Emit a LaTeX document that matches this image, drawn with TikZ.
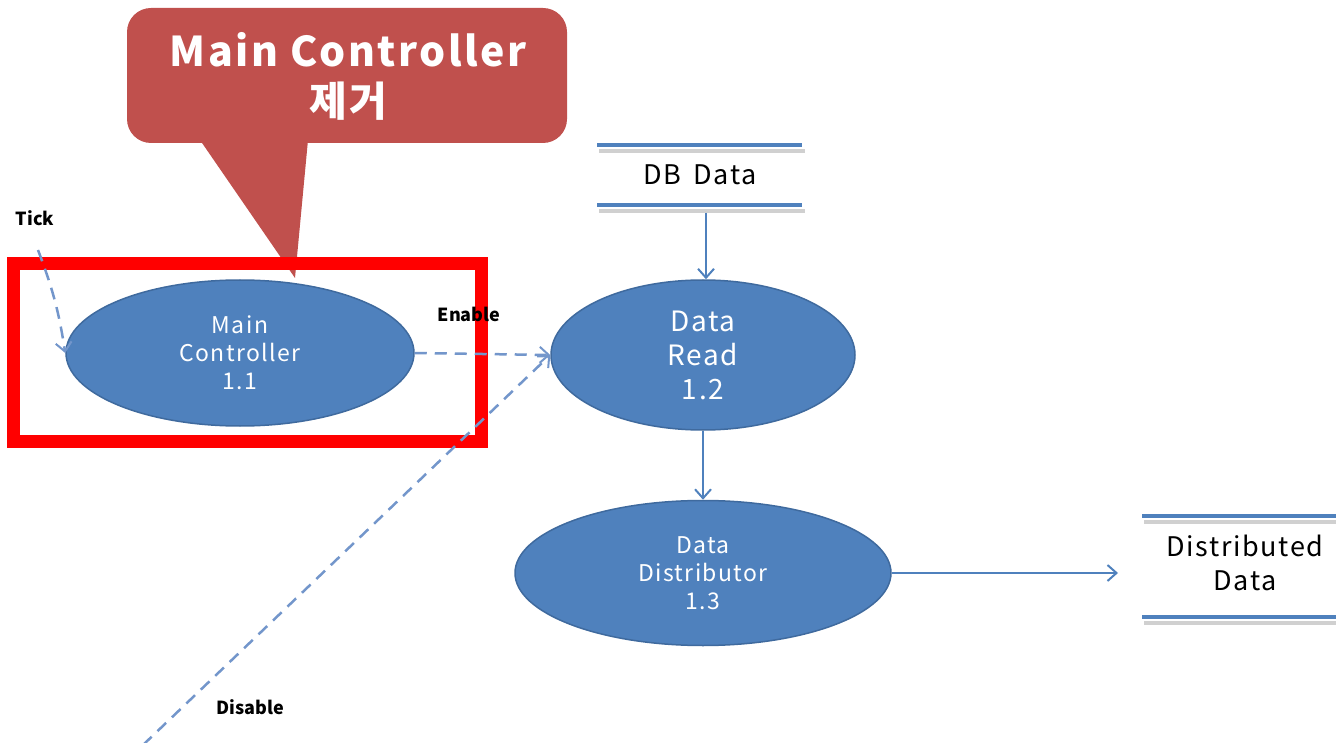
\documentclass[tikz,border=0pt]{standalone}
\usepackage{fontspec}
\setmainfont{Noto Sans CJK KR}
\newfontfamily\widefont[LetterSpace=6]{Noto Sans CJK KR}
\usetikzlibrary{shapes.geometric,arrows.meta}
\definecolor{nodeblue}{HTML}{4F81BD}
\definecolor{nodeedge}{HTML}{3F6A9E}
\definecolor{dashblue}{HTML}{7396CB}
\definecolor{calloutred}{HTML}{C0504D}
\definecolor{shadowgray}{HTML}{D0D0D0}
\tikzset{
  proc/.style={ellipse, fill=nodeblue, draw=nodeedge, line width=1.5pt, text=white, align=center, inner sep=0pt},
  smallproc/.style={proc, font=\widefont\fontsize{23}{28}\selectfont},
  bigproc/.style={proc, font=\widefont\fontsize{28}{34}\selectfont},
  storetext/.style={align=center, font=\widefont\fontsize{27}{34}\selectfont, text=black},
  storeline/.style={draw=nodeblue, line width=4pt},
  storeshadow/.style={draw=shadowgray, line width=4pt},
  flow/.style={draw=nodeblue, line width=2pt, -{Straight Barb[length=9pt,width=16pt,line width=2pt]}},
  ctrlflow/.style={draw=dashblue, line width=2.5pt, dash pattern=on 12pt off 8pt, -{Straight Barb[length=9pt,width=16pt,line width=2pt]}},
  lbl/.style={font=\fontsize{18}{20}\selectfont\bfseries, text=black, inner sep=0pt}
}
\begin{document}
\begin{tikzpicture}[x=1pt,y=-1pt]
\useasboundingbox (0,0) rectangle (1336,743);
% callout
\fill[calloutred, rounded corners=24pt] (127,8) rectangle (567,143);
\fill[calloutred] (200,140) -- (295,278) -- (308,140) -- cycle;
\node[text=white, align=center, font=\widefont\fontsize{41}{50}\selectfont\bfseries] (callout) at (348,76) {Main Controller\\제거};
% red frame
\draw[red, line width=13pt] (13,264) rectangle (481,441);
% processes
\node[smallproc, minimum width=348pt, minimum height=146pt] (mc) at (240,353) {Main\\Controller\\1.1};
\node[bigproc, minimum width=304pt, minimum height=150pt] (dr) at (703,355) {Data\\Read\\1.2};
\node[smallproc, minimum width=376pt, minimum height=145pt] (dd) at (703,573) {Data\\Distributor\\1.3};
% stores
\draw[storeshadow] (599,211) -- (805,211);
\draw[storeline] (597,205) -- (802,205);
\draw[storeshadow] (599,151) -- (805,151);
\draw[storeline] (597,145) -- (802,145);
\node[storetext] (db) at (700,175) {DB\, Data};
\draw[storeshadow] (1144,522) -- (1336,522);
\draw[storeline] (1142,516) -- (1336,516);
\draw[storeshadow] (1144,623) -- (1336,623);
\draw[storeline] (1142,617) -- (1336,617);
\node[storetext] (dist) at (1245,563) {Distributed\\Data};
% flows
\coordinate (dbbot) at (706,213);
\draw[flow] (dbbot) -- (dr.north -| dbbot);
\draw[flow] (dr.south) -- (dd.north);
\coordinate (distin) at (1118,573);
\draw[flow] (dd.east) -- (distin);
% control flows
\node[lbl] (tick) at (35,218) {Tick};
\coordinate (tickstart) at (38,250);
\draw[ctrlflow] (tickstart) to[bend left=6] (mc.west);
\node[lbl] (enable) at (469,314) {Enable};
\draw[ctrlflow] (mc.east) -- (dr.west);
\node[lbl] (disable) at (250,707) {Disable};
\coordinate (disstart) at (143,745);
\draw[ctrlflow] (disstart) -- (dr.west);
\end{tikzpicture}
\end{document}
